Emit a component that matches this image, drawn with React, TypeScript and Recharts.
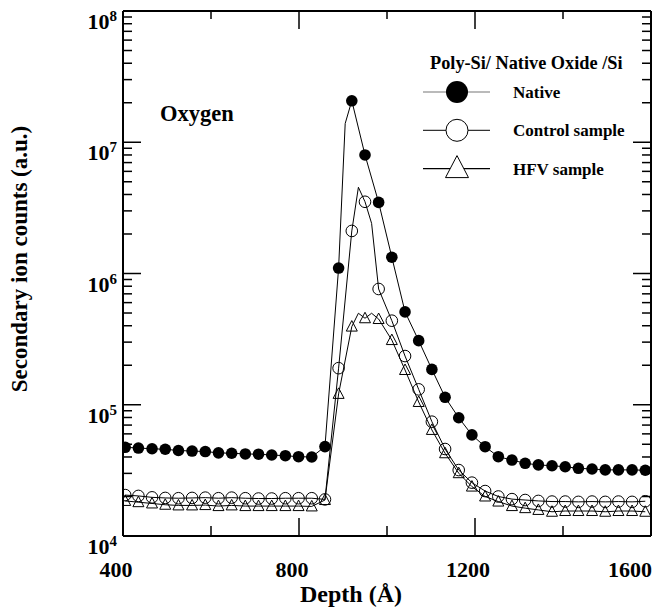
import React from 'react';
import { ComposedChart, Line, XAxis, YAxis, Customized } from 'recharts';

const depths = [
  405, 435, 466, 496, 526, 557, 587, 617, 647, 678,
  708, 738, 769, 799, 829, 859, 890, 920, 950, 981,
  1011, 1041, 1072, 1102, 1132, 1163, 1193, 1223, 1253, 1284,
  1314, 1344, 1375, 1405, 1435, 1466, 1496, 1526, 1557, 1587,
];

const nativeCounts = [
  47400, 46800, 46200, 45800, 44800, 44400, 44000, 43000, 42700, 42200,
  42000, 41400, 40900, 40200, 40000, 48000, 1100000, 20700000, 8000000, 3480000,
  1330000, 510000, 308000, 186000, 114000, 79600, 58900, 47900, 40200, 37900,
  35800, 34800, 34300, 33700, 32800, 32400, 31900, 31900, 31900, 31700,
];

const controlCounts = [
  20500, 20200, 19700, 19500, 19400, 19500, 19600, 19400, 19600, 19400,
  19300, 19300, 19400, 19400, 19400, 19000, 190000, 2110000, 3520000, 762000,
  437000, 235000, 131000, 74300, 46000, 31800, 25500, 22000, 20000, 19100,
  18800, 18500, 18300, 18300, 18200, 18300, 18200, 18300, 18200, 18400,
];

const hfvCounts = [
  18500, 18100, 17700, 17300, 17100, 17100, 17200, 16900, 17100, 16900,
  16900, 16900, 16900, 16900, 16800, 18800, 121000, 394000, 456000, 450000,
  311000, 184000, 105000, 64300, 42700, 30100, 23800, 20000, 18300, 16900,
  16300, 15800, 15300, 15500, 15500, 15500, 15300, 15500, 15500, 15300,
];

// the drawn curves carry a few points between the markers
const nativeExtraDepths = [905];
const nativeExtraCounts = [13900000];
const controlExtraDepths = [935, 965];
const controlExtraCounts = [4540000, 2410000];
const hfvExtraDepths = [935, 965];
const hfvExtraCounts = [498000, 498000];

const xTicks = [400, 600, 800, 1000, 1200, 1400, 1600];
const yTicks = [
  10000, 20000, 30000, 40000, 50000, 60000, 70000, 80000, 90000,
  100000, 200000, 300000, 400000, 500000, 600000, 700000, 800000, 900000,
  1000000, 2000000, 3000000, 4000000, 5000000, 6000000, 7000000, 8000000, 9000000,
  10000000, 20000000, 30000000, 40000000, 50000000, 60000000, 70000000, 80000000, 90000000,
  100000000,
];

const FONT = '"Liberation Serif", "Times New Roman", serif';

const toPoints = (xs: number[], ys: number[]) => xs.map((d, i) => ({ d, v: ys[i] }));
const toCurve = (xs: number[], ys: number[], ex: number[], ey: number[]) =>
  [...toPoints(xs, ys), ...toPoints(ex, ey)].sort((a, b) => a.d - b.d);

const nativeMarks = toPoints(depths, nativeCounts);
const controlMarks = toPoints(depths, controlCounts);
const hfvMarks = toPoints(depths, hfvCounts);
const nativeCurve = toCurve(depths, nativeCounts, nativeExtraDepths, nativeExtraCounts);
const controlCurve = toCurve(depths, controlCounts, controlExtraDepths, controlExtraCounts);
const hfvCurve = toCurve(depths, hfvCounts, hfvExtraDepths, hfvExtraCounts);

const isDecade = (v: number) => {
  const e = Math.log10(v);
  return Math.abs(e - Math.round(e)) < 1e-6;
};

const LeftTick = (props: any) => {
  const { x, y, payload } = props;
  const major = isDecade(payload.value);
  const e = Math.round(Math.log10(payload.value));
  return (
    <g>
      <line x1={x} y1={y} x2={x + (major ? 18 : 9)} y2={y} stroke="#000" strokeWidth={1.5} />
      {major && (
        <text x={x - 6} y={y + 18} textAnchor="end" fontFamily={FONT} fontWeight="bold" fontSize={22} fill="#000">
          10<tspan dy={-8} fontSize={15}>{e}</tspan>
        </text>
      )}
    </g>
  );
};

const RightTick = (props: any) => {
  const { x, y, payload } = props;
  const major = isDecade(payload.value);
  return <line x1={x} y1={y} x2={x - (major ? 18 : 9)} y2={y} stroke="#000" strokeWidth={1.5} />;
};

const BottomTick = (props: any) => {
  const { x, y, payload } = props;
  const major = payload.value % 400 === 0;
  const last = payload.value === 1600;
  return (
    <g>
      <line x1={x} y1={y} x2={x} y2={y - (major ? 18 : 10)} stroke="#000" strokeWidth={1.5} />
      {major && (
        <text x={last ? x + 1 : x - 7} y={y + 41} textAnchor={last ? 'end' : 'middle'} fontFamily={FONT} fontWeight="bold" fontSize={22} fill="#000">
          {payload.value}
        </text>
      )}
    </g>
  );
};

const TopTick = (props: any) => {
  const { x, y, payload } = props;
  const major = payload.value % 400 === 0;
  return <line x1={x} y1={y} x2={x} y2={y + (major ? 18 : 8)} stroke="#000" strokeWidth={1.5} />;
};

const FilledDot = (p: any) => <circle key={`n${p.index}`} cx={p.cx} cy={p.cy} r={5.8} fill="#000" />;
const OpenDot = (p: any) => <circle key={`c${p.index}`} cx={p.cx} cy={p.cy} r={5.8} fill="none" stroke="#000" strokeWidth={1} />;
const TriDot = (p: any) => (
  <polygon
    key={`h${p.index}`}
    points={`${p.cx},${p.cy - 6} ${p.cx - 5.5},${p.cy + 4.5} ${p.cx + 5.5},${p.cy + 4.5}`}
    fill="none"
    stroke="#000"
    strokeWidth={1}
  />
);

const legendRows = ['Native', 'Control sample', 'HFV sample'];

const Overlay = () => (
  <g fontFamily={FONT} fontWeight="bold" fill="#000">
    <text x={160} y={121} fontSize={22.5}>Oxygen</text>
    <text x={430} y={69} fontSize={18.3}>Poly-Si/ Native Oxide /Si</text>
    {legendRows.map((name, i) => {
      const cy = 92 + i * 38.3;
      return (
        <g key={name}>
          <line x1={423} y1={cy} x2={490} y2={cy} stroke={i === 0 ? '#777' : i === 1 ? '#333' : '#000'} strokeWidth={1.2} />
          {i === 0 && <circle cx={457} cy={cy} r={11} fill="#000" />}
          {i === 1 && <circle cx={457} cy={cy} r={11} fill="#fff" stroke="#000" strokeWidth={1} />}
          {i === 2 && (
            <polygon points={`457,${cy - 13} 445.5,${cy + 9} 468.5,${cy + 9}`} fill="#fff" stroke="#000" strokeWidth={1} />
          )}
          <text x={513} y={cy + 6} fontSize={17}>{name}</text>
        </g>
      );
    })}
    <text x={351} y={602} fontSize={24} textAnchor="middle">Depth (Å)</text>
    <text transform="translate(27,259) rotate(-90)" fontSize={23} textAnchor="middle">
      Secondary ion counts (a.u.)
    </text>
  </g>
);

export default function App() {
  return (
    <div style={{ position: 'absolute', left: 0, top: 0, width: 667, height: 611, background: '#fff' }}>
      <ComposedChart width={667} height={611} margin={{ top: 10, right: 15, bottom: 74, left: 0 }}>
        <XAxis
          dataKey="d"
          type="number"
          domain={[400, 1600]}
          ticks={xTicks}
          interval={0}
          allowDataOverflow
          height={1}
          tickSize={0}
          tickMargin={0}
          tickLine={false}
          tick={BottomTick}
          axisLine={{ stroke: '#000', strokeWidth: 2 }}
        />
        <XAxis
          xAxisId="top"
          orientation="top"
          dataKey="d"
          type="number"
          domain={[400, 1600]}
          ticks={xTicks}
          interval={0}
          allowDataOverflow
          height={1}
          tickSize={0}
          tickMargin={0}
          tickLine={false}
          tick={TopTick}
          axisLine={{ stroke: '#000', strokeWidth: 2 }}
        />
        <YAxis
          dataKey="v"
          scale="log"
          type="number"
          domain={[10000, 100000000]}
          ticks={yTicks}
          interval={0}
          allowDataOverflow
          width={123}
          tickSize={0}
          tickMargin={0}
          tickLine={false}
          tick={LeftTick}
          axisLine={{ stroke: '#000', strokeWidth: 2 }}
        />
        <YAxis
          yAxisId="right"
          orientation="right"
          scale="log"
          type="number"
          domain={[10000, 100000000]}
          ticks={yTicks}
          interval={0}
          allowDataOverflow
          width={1}
          tickSize={0}
          tickMargin={0}
          tickLine={false}
          tick={RightTick}
          axisLine={{ stroke: '#000', strokeWidth: 2 }}
        />
        <Line data={nativeCurve} dataKey="v" stroke="#000" strokeWidth={1} dot={false} activeDot={false} isAnimationActive={false} />
        <Line data={controlCurve} dataKey="v" stroke="#000" strokeWidth={1} dot={false} activeDot={false} isAnimationActive={false} />
        <Line data={hfvCurve} dataKey="v" stroke="#000" strokeWidth={1} dot={false} activeDot={false} isAnimationActive={false} />
        <Line data={hfvMarks} dataKey="v" stroke="none" dot={TriDot} activeDot={false} isAnimationActive={false} />
        <Line data={controlMarks} dataKey="v" stroke="none" dot={OpenDot} activeDot={false} isAnimationActive={false} />
        <Line data={nativeMarks} dataKey="v" stroke="none" dot={FilledDot} activeDot={false} isAnimationActive={false} />
        <Customized component={Overlay} />
      </ComposedChart>
    </div>
  );
}
